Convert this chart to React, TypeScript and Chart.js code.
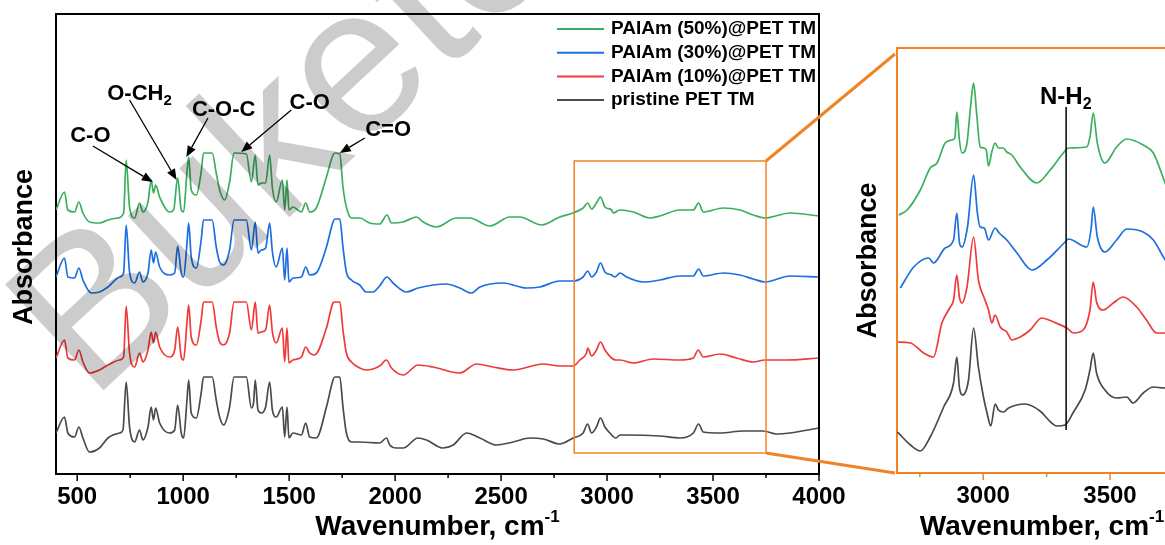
import React, { useEffect, useRef } from 'react';
import { Chart, registerables } from 'chart.js';
Chart.register(...registerables);

const FAM = "'Liberation Sans', Arial, sans-serif";

const seriesLabels = ['PAIAm (50%)@PET TM', 'PAIAm (30%)@PET TM', 'PAIAm (10%)@PET TM', 'pristine PET TM'];
const seriesColors = ['#3BAF5E', '#1C6FE0', '#F03A3A', '#4A4A4A'];

// Full spectra (wavenumber, offset absorbance in arbitrary units)
const green50: number[][] = [
  [400, 264], [440, 282], [456, 264], [487, 262], [508, 272], [527, 261], [558, 252], [605, 251], [645, 254], [692, 256],
  [719, 261], [731, 314], [747, 267], [771, 256], [794, 271], [810, 262], [834, 272], [849, 294], [860, 281], [870, 289],
  [889, 277], [936, 262], [955, 264], [974, 296], [991, 264], [1002, 262], [1018, 302], [1026, 317], [1038, 284], [1062, 279],
  [1085, 302], [1096, 321], [1137, 321], [1156, 301], [1172, 284], [1196, 274], [1219, 292], [1240, 321], [1298, 320], [1322, 292],
  [1340, 319], [1353, 289], [1369, 291], [1389, 291], [1408, 319], [1421, 286], [1439, 272], [1468, 294], [1479, 264], [1490, 294],
  [1499, 264], [1518, 267], [1558, 262], [1578, 271], [1597, 262], [1628, 266], [1676, 297], [1707, 319], [1715, 321], [1739, 320],
  [1754, 287], [1770, 267], [1794, 256], [1833, 256], [1880, 251], [1927, 250], [1962, 259], [1983, 251], [2038, 252], [2101, 257],
  [2132, 252], [2195, 247], [2289, 256], [2352, 256], [2447, 248], [2541, 257], [2588, 257], [2691, 249], [2777, 257], [2840, 261],
  [2887, 266], [2909, 271], [2927, 265], [2950, 271], [2969, 277], [2990, 267], [3021, 264], [3029, 261], [3061, 264], [3124, 262],
  [3202, 256], [3249, 258], [3344, 264], [3407, 264], [3432, 271], [3454, 262], [3548, 266], [3627, 264], [3690, 259], [3745, 256],
  [3863, 261], [4000, 258],
];
const blue30: number[][] = [
  [400, 197], [440, 216], [456, 197], [487, 196], [508, 206], [527, 194], [566, 181], [605, 182], [645, 187], [700, 197],
  [719, 201], [731, 249], [747, 202], [771, 191], [794, 202], [810, 192], [834, 201], [849, 224], [860, 211], [870, 222],
  [889, 207], [936, 199], [960, 201], [974, 228], [991, 201], [1002, 197], [1018, 231], [1026, 251], [1038, 217], [1062, 206],
  [1085, 234], [1096, 254], [1137, 254], [1156, 227], [1172, 212], [1191, 209], [1219, 224], [1240, 254], [1298, 254], [1322, 224],
  [1340, 252], [1353, 221], [1369, 224], [1389, 226], [1408, 251], [1421, 222], [1439, 207], [1468, 226], [1479, 194], [1490, 226],
  [1499, 192], [1518, 196], [1558, 197], [1578, 207], [1597, 199], [1628, 201], [1676, 227], [1707, 252], [1715, 255], [1739, 255],
  [1754, 227], [1770, 202], [1794, 194], [1833, 189], [1864, 182], [1896, 182], [1927, 188], [1962, 197], [1990, 191], [2053, 182],
  [2108, 186], [2242, 190], [2305, 186], [2360, 181], [2400, 187], [2510, 191], [2620, 186], [2683, 187], [2777, 193], [2840, 193],
  [2887, 197], [2909, 203], [2927, 197], [2950, 202], [2969, 211], [2990, 202], [3021, 199], [3037, 197], [3061, 201], [3092, 197],
  [3171, 192], [3249, 194], [3344, 198], [3407, 198], [3432, 205], [3454, 198], [3548, 201], [3627, 199], [3690, 195], [3745, 192],
  [3863, 198], [4000, 197],
];
const red10: number[][] = [
  [400, 116], [440, 134], [456, 116], [487, 114], [508, 124], [527, 112], [558, 101], [605, 104], [645, 109], [700, 114],
  [719, 117], [731, 168], [747, 121], [771, 107], [794, 121], [810, 112], [834, 124], [849, 142], [860, 131], [870, 142],
  [889, 127], [936, 117], [960, 124], [974, 147], [991, 117], [1002, 114], [1018, 152], [1026, 169], [1038, 137], [1062, 129],
  [1085, 154], [1096, 172], [1137, 172], [1156, 147], [1172, 132], [1191, 129], [1219, 141], [1240, 172], [1298, 172], [1322, 144],
  [1340, 172], [1353, 141], [1369, 142], [1389, 144], [1408, 169], [1421, 142], [1439, 131], [1468, 146], [1479, 112], [1490, 146],
  [1499, 111], [1518, 114], [1558, 117], [1578, 127], [1597, 121], [1620, 119], [1676, 146], [1707, 171], [1715, 172], [1739, 172],
  [1754, 144], [1770, 121], [1794, 112], [1833, 106], [1864, 104], [1927, 108], [1959, 114], [1983, 106], [2038, 99], [2108, 109],
  [2179, 107], [2305, 101], [2384, 110], [2462, 107], [2557, 104], [2699, 110], [2777, 108], [2840, 108], [2872, 114], [2903, 121],
  [2909, 126], [2927, 118], [2950, 124], [2969, 132], [2990, 124], [3021, 116], [3042, 114], [3061, 114], [3124, 111], [3218, 115],
  [3344, 114], [3407, 116], [3430, 124], [3454, 117], [3533, 120], [3611, 116], [3690, 112], [3745, 114], [3847, 114], [4000, 116],
];
const pristine: number[][] = [
  [400, 41], [440, 57], [456, 41], [487, 37], [508, 47], [527, 36], [558, 22], [605, 26], [645, 36], [700, 41],
  [716, 44], [731, 92], [747, 47], [771, 32], [794, 44], [810, 34], [834, 47], [849, 67], [860, 54], [870, 66],
  [889, 51], [936, 41], [960, 44], [974, 69], [991, 41], [1002, 36], [1018, 74], [1026, 94], [1038, 61], [1062, 56],
  [1085, 81], [1096, 97], [1137, 97], [1156, 74], [1172, 57], [1191, 49], [1219, 67], [1240, 97], [1298, 97], [1322, 66],
  [1332, 71], [1340, 94], [1353, 64], [1369, 61], [1389, 67], [1408, 92], [1421, 64], [1439, 57], [1468, 67], [1479, 37],
  [1490, 67], [1499, 36], [1518, 41], [1558, 39], [1578, 51], [1597, 37], [1628, 36], [1676, 67], [1707, 94], [1715, 97],
  [1739, 97], [1754, 67], [1770, 41], [1794, 32], [1833, 32], [1927, 31], [1959, 36], [1975, 29], [2006, 26], [2038, 26],
  [2108, 36], [2148, 34], [2226, 26], [2274, 29], [2337, 41], [2400, 36], [2478, 29], [2557, 32], [2636, 36], [2699, 35],
  [2777, 30], [2840, 36], [2887, 41], [2908, 50], [2927, 41], [2950, 47], [2969, 56], [2990, 47], [3013, 41], [3042, 36],
  [3061, 39], [3092, 39], [3249, 38], [3344, 36], [3407, 41], [3432, 50], [3454, 42], [3533, 41], [3643, 43], [3737, 43],
  [3800, 40], [3863, 41], [4000, 46],
];

// Zoomed region spectra (inset panel)
const zoomGreen: number[][] = [
  [2667, 258], [2700, 263], [2752, 283], [2791, 305], [2818, 310], [2850, 330], [2877, 333], [2888, 335], [2896, 361], [2906, 333],
  [2916, 320], [2936, 330], [2950, 366], [2962, 390], [2974, 360], [2988, 326], [3004, 325], [3012, 323], [3021, 307], [3033, 320],
  [3047, 330], [3060, 325], [3079, 325], [3093, 321], [3113, 318], [3146, 306], [3211, 290], [3264, 303], [3316, 320], [3336, 325],
  [3408, 326], [3421, 336], [3434, 360], [3450, 330], [3480, 310], [3526, 326], [3566, 334], [3631, 328], [3671, 320], [3713, 293],
  [3740, 275],
];
const zoomBlue: number[][] = [
  [2673, 185], [2726, 206], [2785, 215], [2804, 210], [2850, 225], [2883, 233], [2896, 260], [2906, 231], [2916, 226], [2938, 246],
  [2962, 298], [2977, 260], [2988, 246], [3004, 245], [3021, 233], [3047, 245], [3063, 240], [3093, 233], [3133, 220], [3192, 203],
  [3251, 213], [3323, 231], [3336, 234], [3408, 226], [3425, 243], [3434, 266], [3450, 236], [3480, 221], [3526, 233], [3566, 244],
  [3631, 241], [3671, 233], [3713, 215], [3740, 205],
];
const zoomRed: number[][] = [
  [2662, 131], [2713, 130], [2765, 120], [2804, 116], [2837, 150], [2870, 166], [2883, 173], [2896, 198], [2906, 176], [2916, 170],
  [2936, 186], [2962, 236], [2981, 193], [3004, 175], [3021, 163], [3034, 150], [3047, 158], [3067, 146], [3093, 141], [3113, 133],
  [3146, 136], [3185, 143], [3231, 155], [3277, 151], [3330, 145], [3356, 140], [3394, 143], [3421, 163], [3434, 191], [3447, 171],
  [3474, 163], [3513, 170], [3552, 176], [3605, 166], [3644, 153], [3684, 140], [3713, 140], [3740, 138],
];
const zoomPristine: number[][] = [
  [2662, 41], [2713, 28], [2752, 22], [2791, 36], [2844, 66], [2883, 90], [2896, 116], [2906, 86], [2919, 78], [2942, 93],
  [2962, 145], [2981, 106], [3001, 76], [3015, 60], [3030, 47], [3047, 69], [3060, 63], [3080, 61], [3100, 65], [3165, 69],
  [3224, 62], [3270, 50], [3290, 47], [3323, 48], [3356, 61], [3402, 83], [3421, 103], [3434, 120], [3447, 100], [3480, 83],
  [3526, 75], [3566, 76], [3591, 70], [3631, 80], [3671, 86], [3713, 85], [3740, 87],
];

// Axis ranges and tick labels
const mainXMin = 400, mainXMax = 4000, mainYMax = 460;
const zoomXMin = 2660, zoomXMax = 3855, zoomYMax = 425;
const mainTicks = [500, 1000, 1500, 2000, 2500, 3000, 3500, 4000];
const zoomTicks = [3000, 3500];
const minorStep = 250;

// Annotations (main panel): label, subscript, text centre, arrow start, arrow tip
const annText = ['C-O', 'O-CH', 'C-O-C', 'C-O', 'C=O'];
const annSub = ['', '2', '', '', ''];
const annTextPos = [[562, 338], [794, 380], [1191, 364], [1597, 371], [1967, 344]];
const annFrom = [[574, 328], [747, 374], [1117, 356], [1510, 364], [1857, 336]];
const annTo = [[857, 292], [969, 294], [1015, 317], [1274, 322], [1739, 321]];

// Highlight box in main panel
const boxX = [2845, 3750];
const boxY = [21, 313];

// Inset marker N-H2
const nhX = 3327;
const nhY = [43, 366];
const nhLabelPos = [3224, 376];

const watermarkText = 'Buketov';

const ORANGE = '#F08424';
const W = 1165, H = 545;

function mkDatasets(list: number[][][], width: number) {
  return list.map((d, i) => ({
    label: seriesLabels[i],
    data: d.map(([x, y]) => ({ x, y })),
    borderColor: seriesColors[i],
    borderWidth: width,
    pointRadius: 0,
    cubicInterpolationMode: 'monotone' as const,
    fill: false,
  }));
}

function drawSupText(ctx: CanvasRenderingContext2D, main: string, sup: string, cx: number, cy: number, size: number, raise: number) {
  ctx.font = `bold ${size}px ${FAM}`;
  const w1 = ctx.measureText(main).width;
  ctx.font = `bold ${Math.round(size * 0.62)}px ${FAM}`;
  const w2 = ctx.measureText(sup).width;
  const x0 = cx - (w1 + w2) / 2;
  ctx.textAlign = 'left';
  ctx.textBaseline = 'middle';
  ctx.font = `bold ${size}px ${FAM}`;
  ctx.fillText(main, x0, cy);
  ctx.font = `bold ${Math.round(size * 0.62)}px ${FAM}`;
  ctx.fillText(sup, x0 + w1, cy + raise);
}

function arrow(ctx: CanvasRenderingContext2D, x1: number, y1: number, x2: number, y2: number) {
  const ang = Math.atan2(y2 - y1, x2 - x1);
  const L = 11, Wd = 4.5;
  const bx = x2 - L * Math.cos(ang), by = y2 - L * Math.sin(ang);
  ctx.beginPath();
  ctx.moveTo(x1, y1);
  ctx.lineTo(bx, by);
  ctx.stroke();
  ctx.beginPath();
  ctx.moveTo(x2, y2);
  ctx.lineTo(bx + Wd * Math.sin(ang), by - Wd * Math.cos(ang));
  ctx.lineTo(bx - Wd * Math.sin(ang), by + Wd * Math.cos(ang));
  ctx.closePath();
  ctx.fill();
}

function drawTicks(ctx: CanvasRenderingContext2D, scale: any, bottom: number, color: string) {
  ctx.strokeStyle = color;
  ctx.lineWidth = 1.5;
  const start = Math.ceil(scale.min / minorStep) * minorStep;
  for (let v = start; v <= scale.max; v += minorStep) {
    const px = scale.getPixelForValue(v);
    const len = v % (minorStep * 2) === 0 ? 7 : 4;
    ctx.beginPath();
    ctx.moveTo(px, bottom);
    ctx.lineTo(px, bottom + len);
    ctx.stroke();
  }
}

const mainDecor = {
  id: 'mainDecor',
  afterDraw(chart: any) {
    const { ctx, chartArea: a, scales } = chart;
    const x = scales.x, y = scales.y;
    ctx.save();
    // frame
    ctx.strokeStyle = '#000';
    ctx.lineWidth = 2;
    ctx.beginPath();
    ctx.moveTo(a.left, a.top);
    ctx.lineTo(a.right, a.top);
    ctx.lineTo(a.right, a.bottom);
    ctx.stroke();
    drawTicks(ctx, x, a.bottom, '#000');

    // highlight box
    ctx.strokeStyle = ORANGE;
    ctx.lineWidth = 1.5;
    const bx1 = x.getPixelForValue(boxX[0]), bx2 = x.getPixelForValue(boxX[1]);
    const by1 = y.getPixelForValue(boxY[1]), by2 = y.getPixelForValue(boxY[0]);
    ctx.strokeRect(bx1, by1, bx2 - bx1, by2 - by1);

    // annotations
    ctx.fillStyle = '#000';
    ctx.strokeStyle = '#000';
    ctx.lineWidth = 1.3;
    for (let i = 0; i < annText.length; i++) {
      const tx = x.getPixelForValue(annTextPos[i][0]);
      const ty = y.getPixelForValue(annTextPos[i][1]);
      ctx.font = `bold 22px ${FAM}`;
      const w1 = ctx.measureText(annText[i]).width;
      ctx.font = `bold 15px ${FAM}`;
      const w2 = annSub[i] ? ctx.measureText(annSub[i]).width : 0;
      const x0 = tx - (w1 + w2) / 2;
      ctx.textAlign = 'left';
      ctx.textBaseline = 'middle';
      ctx.font = `bold 22px ${FAM}`;
      ctx.fillText(annText[i], x0, ty);
      if (annSub[i]) {
        ctx.font = `bold 15px ${FAM}`;
        ctx.fillText(annSub[i], x0 + w1, ty + 7);
      }
      arrow(ctx, x.getPixelForValue(annFrom[i][0]), y.getPixelForValue(annFrom[i][1]),
        x.getPixelForValue(annTo[i][0]), y.getPixelForValue(annTo[i][1]));
    }

    // legend
    const ds = chart.data.datasets;
    ds.forEach((d: any, i: number) => {
      const ly = a.top + 15 + i * 23.7;
      ctx.strokeStyle = d.borderColor;
      ctx.lineWidth = 2;
      ctx.beginPath();
      ctx.moveTo(a.right - 262, ly);
      ctx.lineTo(a.right - 215, ly);
      ctx.stroke();
      ctx.fillStyle = '#000';
      ctx.font = `bold 19px ${FAM}`;
      ctx.textAlign = 'left';
      ctx.textBaseline = 'middle';
      ctx.fillText(d.label, a.right - 208, ly);
    });

    // axis titles
    ctx.fillStyle = '#000';
    drawSupText(ctx, 'Wavenumber, cm', '-1', (a.left + a.right) / 2, 527, 28, -10);
    ctx.save();
    ctx.translate(25, (a.top + a.bottom) / 2 + 3);
    ctx.rotate(-Math.PI / 2);
    ctx.font = `bold 27px ${FAM}`;
    ctx.textAlign = 'center';
    ctx.textBaseline = 'middle';
    ctx.fillText('Absorbance', 0, 0);
    ctx.restore();

    // watermark
    ctx.save();
    ctx.translate(91, 402);
    ctx.rotate(-0.75);
    ctx.font = `210px ${FAM}`;
    ctx.fillStyle = 'rgba(0,0,0,0.2)';
    ctx.textAlign = 'left';
    ctx.textBaseline = 'alphabetic';
    ctx.fillText(watermarkText, 0, 0);
    ctx.restore();

    ctx.restore();
  },
};

export default function App() {
  const mainRef = useRef<HTMLCanvasElement>(null);
  const zoomRef = useRef<HTMLCanvasElement>(null);

  useEffect(() => {
    const tickFont = { family: FAM, size: 24, weight: 'bold' as const };
    const main = new Chart(mainRef.current!, {
      type: 'line',
      data: { datasets: mkDatasets([green50, blue30, red10, pristine], 1.7) as any },
      options: {
        animation: false,
        responsive: false,
        maintainAspectRatio: false,
        layout: { padding: { left: 0, top: 14, right: W - 819, bottom: 0 } },
        plugins: { legend: { display: false }, tooltip: { enabled: false }, title: { display: false } },
        scales: {
          x: {
            type: 'linear', min: mainXMin, max: mainXMax,
            afterFit: (s: any) => { s.height = H - 474; },
            afterBuildTicks: (s: any) => { s.ticks = mainTicks.map((v) => ({ value: v })); },
            grid: { display: false, drawTicks: false },
            border: { display: true, color: '#000', width: 2 },
            ticks: { font: tickFont, color: '#000', padding: 9, maxRotation: 0, autoSkip: false, callback: (v: any) => String(v) },
          },
          y: {
            type: 'linear', min: 0, max: mainYMax,
            afterFit: (s: any) => { s.width = 56; },
            grid: { display: false, drawTicks: false },
            border: { display: true, color: '#000', width: 2 },
            ticks: { display: false },
          },
        },
      },
      plugins: [mainDecor],
    });

    const zoomDecor = {
      id: 'zoomDecor',
      afterDraw(chart: any) {
        const { ctx, chartArea: a, scales } = chart;
        const x = scales.x, y = scales.y;
        ctx.save();
        ctx.strokeStyle = ORANGE;
        ctx.lineWidth = 2;
        ctx.beginPath();
        ctx.moveTo(a.left, a.top);
        ctx.lineTo(a.right, a.top);
        ctx.stroke();
        drawTicks(ctx, x, a.bottom, ORANGE);

        // connectors from highlight box to inset
        const mx = main.scales.x, my = main.scales.y;
        const bxr = mx.getPixelForValue(boxX[1]);
        const byt = my.getPixelForValue(boxY[1]);
        const byb = my.getPixelForValue(boxY[0]);
        ctx.strokeStyle = ORANGE;
        ctx.lineWidth = 3;
        ctx.beginPath();
        ctx.moveTo(bxr, byt);
        ctx.lineTo(a.left - 2, a.top + 6);
        ctx.moveTo(bxr, byb);
        ctx.lineTo(a.left - 2, a.bottom);
        ctx.stroke();

        // N-H2 marker
        const nx = x.getPixelForValue(nhX);
        ctx.strokeStyle = '#000';
        ctx.lineWidth = 1.5;
        ctx.beginPath();
        ctx.moveTo(nx, y.getPixelForValue(nhY[0]));
        ctx.lineTo(nx, y.getPixelForValue(nhY[1]));
        ctx.stroke();
        ctx.fillStyle = '#000';
        ctx.font = `bold 24px ${FAM}`;
        ctx.textAlign = 'left';
        ctx.textBaseline = 'middle';
        const lx = x.getPixelForValue(nhLabelPos[0]);
        const ly = y.getPixelForValue(nhLabelPos[1]);
        ctx.fillText('N-H', lx, ly);
        const w1 = ctx.measureText('N-H').width;
        ctx.font = `bold 16px ${FAM}`;
        ctx.fillText('2', lx + w1, ly + 8);

        // titles
        drawSupText(ctx, 'Wavenumber, cm', '-1', 1042, 527, 28, -10);
        ctx.save();
        ctx.translate(a.left - 28, (a.top + a.bottom) / 2);
        ctx.rotate(-Math.PI / 2);
        ctx.font = `bold 27px ${FAM}`;
        ctx.textAlign = 'center';
        ctx.textBaseline = 'middle';
        ctx.fillText('Absorbance', 0, 0);
        ctx.restore();
        ctx.restore();
      },
    };

    const zoom = new Chart(zoomRef.current!, {
      type: 'line',
      data: { datasets: mkDatasets([zoomGreen, zoomBlue, zoomRed, zoomPristine], 1.7) as any },
      options: {
        animation: false,
        responsive: false,
        maintainAspectRatio: false,
        layout: { padding: { left: 0, top: 48, right: 0, bottom: 0 } },
        plugins: { legend: { display: false }, tooltip: { enabled: false }, title: { display: false } },
        scales: {
          x: {
            type: 'linear', min: zoomXMin, max: zoomXMax,
            afterFit: (s: any) => { s.height = H - 473; },
            afterBuildTicks: (s: any) => { s.ticks = zoomTicks.map((v) => ({ value: v })); },
            grid: { display: false, drawTicks: false },
            border: { display: true, color: ORANGE, width: 2 },
            ticks: { font: tickFont, color: '#000', padding: 9, maxRotation: 0, autoSkip: false, callback: (v: any) => String(v) },
          },
          y: {
            type: 'linear', min: 0, max: zoomYMax,
            afterFit: (s: any) => { s.width = 897; },
            grid: { display: false, drawTicks: false },
            border: { display: true, color: ORANGE, width: 2 },
            ticks: { display: false },
          },
        },
      },
      plugins: [zoomDecor],
    });

    return () => {
      zoom.destroy();
      main.destroy();
    };
  }, []);

  return (
    <div style={{ position: 'absolute', left: 0, top: 0, width: W, height: H, overflow: 'hidden', background: '#fff' }}>
      <canvas ref={mainRef} width={W} height={H} style={{ position: 'absolute', left: 0, top: 0, width: W, height: H }} />
      <canvas ref={zoomRef} width={1200} height={H} style={{ position: 'absolute', left: 0, top: 0, width: 1200, height: H }} />
    </div>
  );
}
